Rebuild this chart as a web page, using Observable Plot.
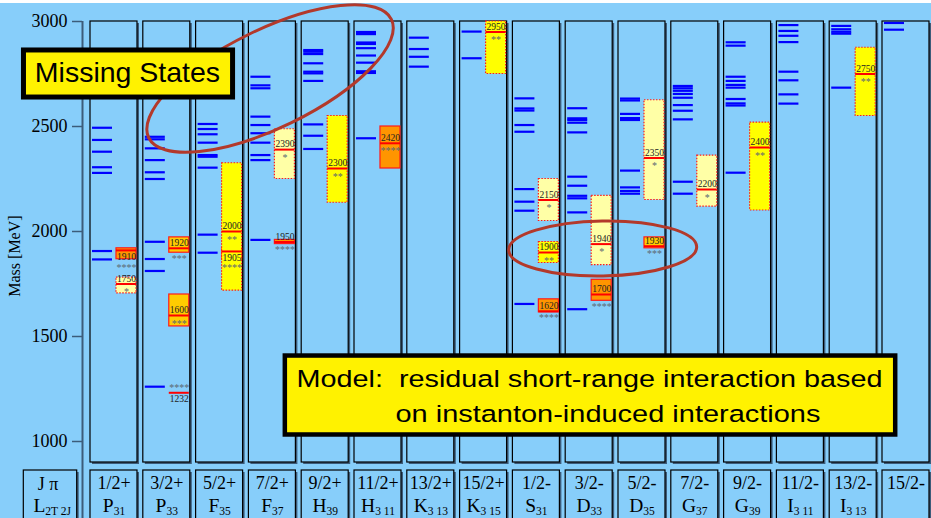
<!DOCTYPE html>
<html>
<head>
<meta charset="utf-8">
<script src="https://cdn.jsdelivr.net/npm/d3@7"></script>
<script src="https://cdn.jsdelivr.net/npm/@observablehq/plot@0.6"></script>
<style>
  html, body { margin: 0; padding: 0; background: #fff; }
  svg { display: block; }
</style>
</head>
<body>
<script>
// Δ baryon spectrum: model states (blue) against PDG resonances (boxes), one column per J^π wave.

const waves = ["1/2+", "3/2+", "5/2+", "7/2+", "9/2+", "11/2+", "13/2+", "15/2+",
               "1/2-", "3/2-", "5/2-", "7/2-", "9/2-", "11/2-", "13/2-", "15/2-"];
const waveLetters    = ["P", "P", "F", "F", "H", "H", "K", "K", "S", "D", "D", "G", "G", "I", "I", ""];
const waveSubscripts = ["31", "33", "35", "37", "39", "3 11", "3 13", "3 15",
                        "31", "33", "35", "37", "39", "3 11", "3 13", ""];

// Model masses [MeV], one list per wave (same order as `waves`)
const modelMasses = [
  [2494, 2436, 2380, 2306, 2279, 1907, 1867],                         // P31
  [2451, 2439, 2396, 2340, 2282, 2250, 1951, 1869, 1812, 1261],       // P33
  [2512, 2488, 2463, 2423, 2364, 2356, 2304, 1985, 1899],             // F35
  [2737, 2696, 2682, 2547, 2507, 2468, 2423, 2364, 2340, 1960],       // F37
  [2864, 2856, 2845, 2801, 2761, 2753, 2717, 2510, 2456, 2393],       // H39
  [2950, 2940, 2900, 2893, 2873, 2838, 2804, 2763, 2755, 2444],       // H3 11
  [2923, 2869, 2832, 2785],                                           // K3 13
  [2952, 2825],                                                       // K3 15
  [2634, 2586, 2576, 2507, 2475, 2202, 2142, 2099, 1655],             // S31
  [2587, 2539, 2531, 2518, 2472, 2261, 2218, 2170, 2158, 2091, 1630], // D33
  [2633, 2624, 2560, 2540, 2531, 2290, 2210, 2193, 2180],             // D35
  [2693, 2682, 2670, 2655, 2637, 2602, 2575, 2534, 2237, 2180],       // G37
  [2901, 2885, 2737, 2717, 2698, 2685, 2631, 2610, 2600, 2280],       // G39
  [2983, 2955, 2932, 2902, 2761, 2720, 2653, 2609],                   // I3 11
  [2979, 2963, 2951, 2942, 2685],                                     // I3 13
  [2993, 2961]                                                        // L3 15
];

// PDG resonances: wave index, nominal mass, mass range, star rating
const expWave  = [0, 0, 1, 1, 1, 2, 2, 3, 3, 4, 5, 7, 8, 8, 8, 9, 9, 10, 10, 11, 12, 14];
const expMass  = [1750, 1910, 1232, 1600, 1920, 1905, 2000, 1950, 2390, 2300, 2420, 2950,
                  1620, 1900, 2150, 1700, 1940, 1930, 2350, 2200, 2400, 2750];
const expLow   = [1705, 1868, 1231, 1548, 1899, 1865, 1718, 1940, 2250, 2137, 2300, 2750,
                  1615, 1850, 2050, 1670, 1840, 1920, 2150, 2118, 2100, 2550];
const expHigh  = [1780, 1920, 1233, 1700, 1972, 1920, 2325, 1960, 2487, 2550, 2500, 3000,
                  1677, 1950, 2250, 1770, 2170, 1972, 2625, 2361, 2518, 2875];
const expStars = [1, 4, 4, 3, 3, 4, 2, 4, 1, 2, 4, 2, 4, 2, 1, 4, 1, 3, 1, 1, 2, 2];

const yTicks = [1000, 1500, 2000, 2500, 3000];
const yLabel = "Mass [MeV]";
const headerCorner = ["J π", "L|2T 2J"];
const missingNote = "Missing States";
const modelNote = ["Model:\u00a0 residual short-range interaction based", "on instanton-induced interactions"];

// ---- scales and layout ----
const Y_DOMAIN = [900, 3000], Y_RANGE = [462, 21];
const X_DOMAIN = [0, 16], X_RANGE = [90, 934.8];
const ypx = d3.scaleLinear(Y_DOMAIN, Y_RANGE);
const COL_W = 0.89;                 // column body width (wave units)
const LINE_X = [0.038, 0.417];      // model tick span inside a column
const BOX_X = [0.492, 0.871];       // resonance box span inside a column
const HEADER_TOP = ypx.invert(470);
const HEADER_BOTTOM = 500;

const starFill = {4: "#ff9500", 3: "#ffcc00", 2: "#ffff00", 1: "#ffffa6"};
const SKY = "#87cefa", SHADOW = "#3c5c7a", SERIF = "'Liberation Serif', 'Times New Roman', serif",
      SANS = "'Liberation Sans', Arial, sans-serif";

const columns = waves.map((w, i) => ({i, w, tag: waveLetters[i] ? waveLetters[i] + "|" + waveSubscripts[i] : ""}));
const model = modelMasses.flatMap((ms, i) => ms.map(m => ({i, m})));
const exp = expWave.map((i, k) => {
  const mass = expMass[k], lo = expLow[k], hi = expHigh[k];
  const bare = ypx(lo) - ypx(hi) < 2;
  const roomAbove = ypx(mass) - ypx(hi), roomBelow = ypx(lo) - ypx(mass);
  const labelBelow = bare || (roomAbove < 4 && roomBelow >= 8);
  const starsInside = !labelBelow && roomBelow >= 8;
  return {i, mass, lo, hi, stars: expStars[k], bare, labelBelow, starsInside,
          starText: "*".repeat(expStars[k])};
}).sort((a, b) => (b.hi - b.lo) - (a.hi - a.lo));

const boxX1 = d => d.i + BOX_X[0], boxX2 = d => d.i + BOX_X[1], boxXc = d => d.i + (BOX_X[0] + BOX_X[1]) / 2;

function ring(cx, cy, rx, ry, angle) {
  return (index, {x, y}) => {
    const px = x(cx), py = y(cy);
    return d3.create("svg:ellipse")
      .attr("cx", px).attr("cy", py).attr("rx", rx).attr("ry", ry)
      .attr("transform", `rotate(${angle} ${px} ${py})`)
      .attr("fill", "none").attr("stroke", "#b3392b").attr("stroke-width", 3)
      .node();
  };
}

const chart = Plot.plot({
  width: 931,
  height: 518,
  marginLeft: 82,
  marginTop: 21,
  marginRight: 0,
  marginBottom: 56,
  x: {domain: X_DOMAIN, range: X_RANGE, axis: null},
  y: {domain: Y_DOMAIN, range: Y_RANGE},
  style: {background: `linear-gradient(#fff 0 3px, ${SKY} 3px)`, fontFamily: SERIF, color: "#000"},
  marks: [
    // mass axis
    Plot.ruleX([0], {dx: -8, y1: 3000, y2: 600, stroke: SHADOW, strokeWidth: 2}),
    Plot.axisY({ticks: yTicks, tickFormat: d => String(d), tickSize: 10, tickPadding: 5, fontSize: 18,
                stroke: SHADOW, strokeWidth: 1.5, label: null}),
    Plot.text([yLabel], {x: -1.43, y: 1883, rotate: -90, fontSize: 16, text: d => d}),

    // wave columns with drop shadow
    Plot.rect(columns, {x1: "i", x2: d => d.i + COL_W, y1: 900, y2: 3000, dx: 2, dy: 2, fill: SHADOW}),
    Plot.rect(columns, {x1: "i", x2: d => d.i + COL_W, y1: 900, y2: 3000, fill: SKY, stroke: "#000", strokeWidth: 1.2}),

    // header row
    Plot.rect(columns, {x1: "i", x2: d => d.i + COL_W, y1: HEADER_BOTTOM, y2: HEADER_TOP, dx: 2, dy: 2, fill: SHADOW}),
    Plot.rect(columns, {x1: "i", x2: d => d.i + COL_W, y1: HEADER_BOTTOM, y2: HEADER_TOP, fill: SKY, stroke: "#000", strokeWidth: 1.2}),
    Plot.rect([0], {x1: -1.263, x2: -0.252, y1: HEADER_BOTTOM, y2: HEADER_TOP, dx: 2, dy: 2, fill: SHADOW}),
    Plot.rect([0], {x1: -1.263, x2: -0.252, y1: HEADER_BOTTOM, y2: HEADER_TOP, fill: SKY, stroke: "#000", strokeWidth: 1.2}),
    Plot.text(columns, {x: d => d.i + COL_W / 2, y: HEADER_TOP, text: "w", dy: 13, fontSize: 18}),
    Plot.text(columns, {x: d => d.i + COL_W / 2, y: HEADER_TOP, text: "tag", lineAnchor: "bottom", dy: 41, fontSize: 19.5}),
    Plot.text([headerCorner[0]], {x: -0.805, y: HEADER_TOP, text: d => d, dy: 14, fontSize: 18}),
    Plot.text([headerCorner[1]], {x: -0.725, y: HEADER_TOP, text: d => d, lineAnchor: "bottom", dy: 41, fontSize: 19.5}),

    // model states
    Plot.ruleY(model, {y: "m", x1: d => d.i + LINE_X[0], x2: d => d.i + LINE_X[1], stroke: "#0000ff", strokeWidth: 2.2}),

    // resonance boxes: solid border for ***/****, dotted for */**
    Plot.rect(exp, {filter: d => !d.bare && d.stars >= 3, x1: boxX1, x2: boxX2, y1: "lo", y2: "hi",
                    fill: d => starFill[d.stars], stroke: "#ff1a1a", strokeWidth: 1.2}),
    Plot.rect(exp, {filter: d => !d.bare && d.stars <= 2, x1: boxX1, x2: boxX2, y1: "lo", y2: "hi",
                    fill: d => starFill[d.stars], stroke: "#ff1a1a", strokeWidth: 1.2, strokeDasharray: "1.5,1.5"}),
    Plot.ruleY(exp, {y: "mass", x1: boxX1, x2: boxX2, stroke: "#ff0000", strokeWidth: 2}),

    // mass labels and star ratings
    Plot.text(exp, {filter: d => !d.labelBelow, x: boxXc, y: "mass", text: d => String(d.mass),
                    lineAnchor: "bottom", dy: -2.5, fontSize: 9.5, fill: "#222"}),
    Plot.text(exp, {filter: d => d.labelBelow, x: boxXc, y: "mass", text: d => String(d.mass),
                    lineAnchor: "top", dy: 2.5, fontSize: 9.5, fill: "#222"}),
    Plot.text(exp, {filter: d => d.starsInside, x: boxXc, y: "mass", text: "starText",
                    lineAnchor: "top", dy: 4, fontSize: 10, fill: "#5c6873"}),
    Plot.text(exp, {filter: d => !d.starsInside && !d.bare && !d.labelBelow, x: boxXc, y: "lo", text: "starText",
                    lineAnchor: "top", dy: 2, fontSize: 10, fill: "#5c6873"}),
    Plot.text(exp, {filter: d => !d.bare && d.labelBelow, x: boxXc, y: "lo", text: "starText",
                    lineAnchor: "top", dy: 4.5, fontSize: 10, fill: "#5c6873"}),
    Plot.text(exp, {filter: d => d.bare, x: boxXc, y: "mass", text: "starText",
                    lineAnchor: "bottom", dy: -1.5, fontSize: 10, fill: "#5c6873"}),

    // highlighted regions
    ring(3.41, 2726, 135, 49, -26),
    ring(9.71, 1917, 94, 27.5, -1),

    // notes
    Plot.rect([0], {x1: -1.26, x2: 2.70, y1: 2638, y2: 2862, fill: "#fff200", stroke: "#000", strokeWidth: 5}),
    Plot.text([missingNote], {x: 0.70, y: 2750, text: d => d, dy: -1, fontSize: 28.5, fontFamily: SANS, fill: "#000"}),
    Plot.rect([0], {x1: 3.69, x2: 15.25, y1: 1031, y2: 1407, fill: "#fff200", stroke: "#000", strokeWidth: 4.5}),
    Plot.text([modelNote[0]], {x: 9.45, y: 1261, text: d => d, lineAnchor: "bottom", fontSize: 24.5, fontFamily: SANS, fill: "#000"}),
    Plot.text([modelNote[1]], {x: 9.80, y: 1094, text: d => d, lineAnchor: "bottom", fontSize: 24.5, fontFamily: SANS, fill: "#000"})
  ]
});

// subscripts in the wave names (L_{2T 2J})
d3.select(chart).selectAll("text").each(function () {
  const s = this.textContent;
  const k = s.indexOf("|");
  if (k < 0) return;
  const el = d3.select(this);
  el.text(s.slice(0, k));
  el.append("tspan").attr("font-size", 11.5).attr("dy", 3).text(s.slice(k + 1));
});

// the note text is set wide
d3.select(chart).selectAll("text").each(function () {
  const s = this.textContent;
  if (s === modelNote[0]) d3.select(this).attr("textLength", 586).attr("lengthAdjust", "spacingAndGlyphs");
  if (s === modelNote[1]) d3.select(this).attr("textLength", 425).attr("lengthAdjust", "spacingAndGlyphs");
});

document.body.appendChild(chart);
</script>
</body>
</html>
